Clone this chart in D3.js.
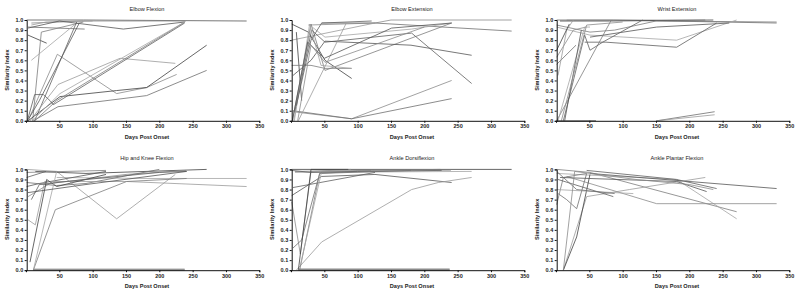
<!DOCTYPE html>
<html>
<head>
<meta charset="utf-8">
<script src="https://cdn.jsdelivr.net/npm/d3@7"></script>
<style>
  body { margin: 0; background: #fff; }
  svg { display: block; font-family: "Liberation Sans", Arial, sans-serif; }
</style>
</head>
<body>
<div id="d3-container"></div>
<script>
/* CONSTANTS AND GLOBALS */
const width = 800,
  height = 295;

const panelTitles = ["Elbow Flexion", "Elbow Extension", "Wrist Extension",
  "Hip and Knee Flexion", "Ankle Dorsiflexion", "Ankle Plantar Flexion"];
const xTicks = [50, 100, 150, 200, 250, 300, 350];
const yTicks = [0, 0.1, 0.2, 0.3, 0.4, 0.5, 0.6, 0.7, 0.8, 0.9, 1.0];
const xLabel = "Days Post Onset";
const yLabel = "Similarity Index";

// each subject is a list of [day, similarity index]
const elbowFlexion = [
  [[1, 1.0], [86, 1.0], [331, 0.99]],
  [[8, 0.97], [86, 0.99], [240, 0.99]],
  [[3, 0.93], [88, 0.91]],
  [[8, 0.95], [30, 0.98], [100, 0.99]],
  [[3, 0.85], [31, 0.77]],
  [[10, 0], [23, 0.88], [86, 0.98]],
  [[8, 0.6], [76, 0.97]],
  [[13, 0], [76, 0.98]],
  [[3, 0.92], [50, 0.99], [146, 0.91], [238, 0.98]],
  [[3, 0], [47, 0.66], [136, 0.27], [181, 0.33], [226, 0.46]],
  [[11, 0], [48, 0.14], [181, 0.25], [271, 0.5]],
  [[6, 0], [48, 0.36], [141, 0.62], [224, 0.57]],
  [[3, 0], [51, 0.24], [136, 0.3], [181, 0.33], [271, 0.75]],
  [[13, 0], [46, 0.2], [238, 0.98]],
  [[9, 0], [51, 0.27], [238, 0.98]],
  [[2, 0], [13, 0.26], [26, 0.26], [36, 0.2], [41, 0.16], [238, 0.97]],
  [[4, 0.02], [20, 0.2], [80, 0.97]]
];

const elbowExtension = [
  [[26, 0.95], [126, 0.97], [150, 1.0], [331, 1.0]],
  [[46, 0.97], [126, 0.97], [331, 0.89]],
  [[1, 0.8], [126, 0.97]],
  [[1, 0.96], [26, 0.88], [51, 0.6], [91, 0.42]],
  [[2, 0], [30, 0.96], [51, 0.5], [241, 0.97]],
  [[4, 0], [30, 0.94], [51, 0.83], [181, 0.91], [241, 0.97]],
  [[6, 0.1], [31, 0.9], [51, 0.78], [181, 0.87], [271, 0.37]],
  [[3, 0.45], [30, 0.6], [51, 0.79], [180, 0.75], [271, 0.65]],
  [[3, 0.09], [91, 0.02], [241, 0.4]],
  [[3, 0.1], [91, 0.02], [241, 0.22]],
  [[11, 0], [83, 0.97]],
  [[8, 0.88], [16, 0.2]],
  [[1, 0.55], [30, 0.55], [51, 0.52], [91, 0.52]],
  [[5, 0], [28, 0.96], [45, 0.55], [91, 0.52]],
  [[8, 0.15], [30, 0.8], [46, 0.97], [121, 0.99]],
  [[2, 0], [25, 0.78], [50, 0.62], [151, 0.92], [241, 0.97]],
  [[10, 0], [30, 0.75], [51, 0.58], [200, 0.93]]
];

const wristExtension = [
  [[1, 1.0], [86, 1.0], [331, 0.97]],
  [[16, 1.0], [224, 1.0]],
  [[6, 0.99], [80, 0.99], [236, 1.0]],
  [[1, 0.95], [51, 0.88], [88, 0.9], [150, 0.99], [331, 0.98]],
  [[1, 0.93], [51, 0.85], [181, 0.8], [271, 1.0]],
  [[43, 0.78], [75, 0.78], [181, 0.73], [241, 0.97]],
  [[51, 0.83], [151, 0.93], [260, 0.97]],
  [[1, 0.63], [26, 0.9], [45, 0.93]],
  [[1, 0.56], [30, 0.75]],
  [[3, 0.45], [16, 0.9], [26, 1.0]],
  [[1, 0.7], [20, 0.96]],
  [[1, 0], [83, 1.0]],
  [[3, 0], [43, 0.93], [51, 0.93]],
  [[11, 0], [43, 0.85], [51, 0.7], [70, 0.78], [130, 1.0]],
  [[13, 0], [38, 0.9]],
  [[8, 0], [46, 0.95], [100, 0.98]],
  [[151, 0], [238, 0.09]],
  [[151, 0], [238, 0.06]],
  [[1, 0], [60, 0]]
];

const hipKneeFlexion = [
  [[1, 1.0], [46, 0.98], [136, 0.51], [224, 0.95]],
  [[14, 0.98], [90, 0.96], [271, 1.0]],
  [[1, 0.97], [120, 0.99]],
  [[46, 0.92], [180, 0.91], [331, 0.91]],
  [[1, 0.92], [30, 0.98]],
  [[1, 0.83], [20, 0.86], [120, 0.98]],
  [[3, 0.73], [36, 0.86], [150, 0.95], [240, 0.99]],
  [[1, 0.87], [46, 0.84], [90, 0.86], [200, 1.0]],
  [[3, 0.5], [14, 0.45], [28, 0.88], [60, 0.88], [151, 0.88], [331, 0.83]],
  [[6, 0.08], [31, 0.9], [46, 0.83], [120, 0.95]],
  [[11, 0], [44, 0.6], [151, 0.88], [241, 0.91]],
  [[11, 0], [46, 0.98]],
  [[8, 0.7], [20, 0.85], [60, 0.88], [200, 0.97], [241, 0.98]],
  [[3, 0.77], [90, 0.85], [241, 0.98]],
  [[11, 0], [238, 0]],
  [[11, 0.006], [238, 0.006]],
  [[11, 0.012], [238, 0.012]]
];

const ankleDorsiflexion = [
  [[1, 1.0], [331, 1.0]],
  [[6, 0.98], [224, 1.0]],
  [[6, 0.97], [271, 0.98]],
  [[3, 0.82], [126, 0.97]],
  [[1, 0.74], [46, 0.93], [126, 0.95], [241, 0.87]],
  [[1, 0.68], [14, 0.16], [30, 0.98], [90, 1.0]],
  [[3, 0.22], [16, 0.3], [43, 0.96], [180, 0.99]],
  [[8, 0], [46, 0.28], [181, 0.8], [221, 0.87], [271, 0.92]],
  [[11, 0], [30, 1.0], [86, 1.0]],
  [[13, 0], [43, 0.96], [120, 0.99]],
  [[14, 0.05], [46, 0.98], [240, 0.99]],
  [[1, 0.99], [30, 0.97], [100, 0.98], [226, 0.99]],
  [[11, 0], [238, 0]],
  [[11, 0.006], [238, 0.006]],
  [[11, 0.012], [238, 0.012]]
];

const anklePlantarFlexion = [
  [[1, 1.0], [51, 0.97], [271, 0.58]],
  [[1, 0.96], [181, 0.9], [271, 0.51]],
  [[46, 0.99], [181, 0.9], [241, 0.81]],
  [[51, 0.96], [331, 0.81]],
  [[16, 0.93], [151, 0.66], [331, 0.66]],
  [[3, 0.76], [16, 0.7], [31, 0.61], [46, 0.96]],
  [[11, 0], [46, 0.73], [110, 0.8], [224, 0.92]],
  [[11, 0], [31, 0.33], [51, 0.95]],
  [[1, 0.65], [11, 0.92], [46, 0.96]],
  [[1, 0.8], [116, 0.76]],
  [[3, 0.9], [86, 0.73]],
  [[6, 0.92], [181, 0.88], [226, 0.78]],
  [[11, 0], [28, 0.98], [120, 0.9], [200, 0.85], [236, 0.8]],
  [[1, 0.98], [31, 0.8], [88, 0.76]]
];

const panelData = [elbowFlexion, elbowExtension, wristExtension,
  hipKneeFlexion, ankleDorsiflexion, anklePlantarFlexion];

const grays = ["#555", "#8a8a8a", "#6e6e6e", "#9a9a9a", "#404040", "#7c7c7c", "#a5a5a5", "#606060"];

/* SCALES (shared by every panel, panels are translated) */
const xScale = d3.scaleLinear().domain([0, 350]).range([26, 259.3]);
const yScale = d3.scaleLinear().domain([0, 1]).range([120.8, 20]);

const svg = d3.select("#d3-container")
  .append("svg")
  .attr("width", width)
  .attr("height", height);

const line = d3.line()
  .x(d => xScale(d[0]))
  .y(d => yScale(d[1]));

panelTitles.forEach((title, i) => {
  const col = i % 3, row = Math.floor(i / 3);
  const g = svg.append("g")
    .attr("transform", `translate(${col * 265}, ${row * 149.4})`);

  // lines
  g.selectAll("path.subject")
    .data(panelData[i])
    .join("path")
    .attr("class", "subject")
    .attr("d", line)
    .attr("fill", "none")
    .attr("stroke", (d, j) => grays[(j + i) % grays.length])
    .attr("stroke-width", 0.8);

  // axes
  const xAxis = d3.axisBottom(xScale).tickValues(xTicks).tickSize(2).tickPadding(1.5);
  const yAxis = d3.axisLeft(yScale).tickValues(yTicks).tickSize(2).tickPadding(1.5)
    .tickFormat(d3.format(".1f"));

  g.append("g")
    .attr("class", "xAxis")
    .attr("transform", `translate(0, ${yScale(0)})`)
    .call(xAxis);

  g.append("g")
    .attr("class", "yAxis")
    .attr("transform", `translate(${xScale(0) + 0.7}, 0)`)
    .call(yAxis);

  g.selectAll(".domain").attr("stroke", "#111").attr("stroke-width", 1);
  g.selectAll(".tick line").attr("stroke", "#111");
  g.selectAll(".tick text")
    .attr("font-size", 5.5)
    .attr("font-weight", "bold")
    .attr("font-family", "Liberation Sans, Arial, sans-serif")
    .attr("fill", "#222");

  // titles
  g.append("text")
    .attr("x", 147).attr("y", 10.8)
    .attr("text-anchor", "middle")
    .attr("font-size", 5.6)
    .attr("fill", "#222")
    .text(title);

  g.append("text")
    .attr("x", 147).attr("y", 138.8)
    .attr("text-anchor", "middle")
    .attr("font-size", 5.6)
    .attr("font-weight", "bold")
    .attr("fill", "#222")
    .text(xLabel);

  g.append("text")
    .attr("transform", `translate(9.2, 70) rotate(-90)`)
    .attr("text-anchor", "middle")
    .attr("font-size", 5.6)
    .attr("font-weight", "bold")
    .attr("fill", "#222")
    .text(yLabel);
});
</script>
</body>
</html>
